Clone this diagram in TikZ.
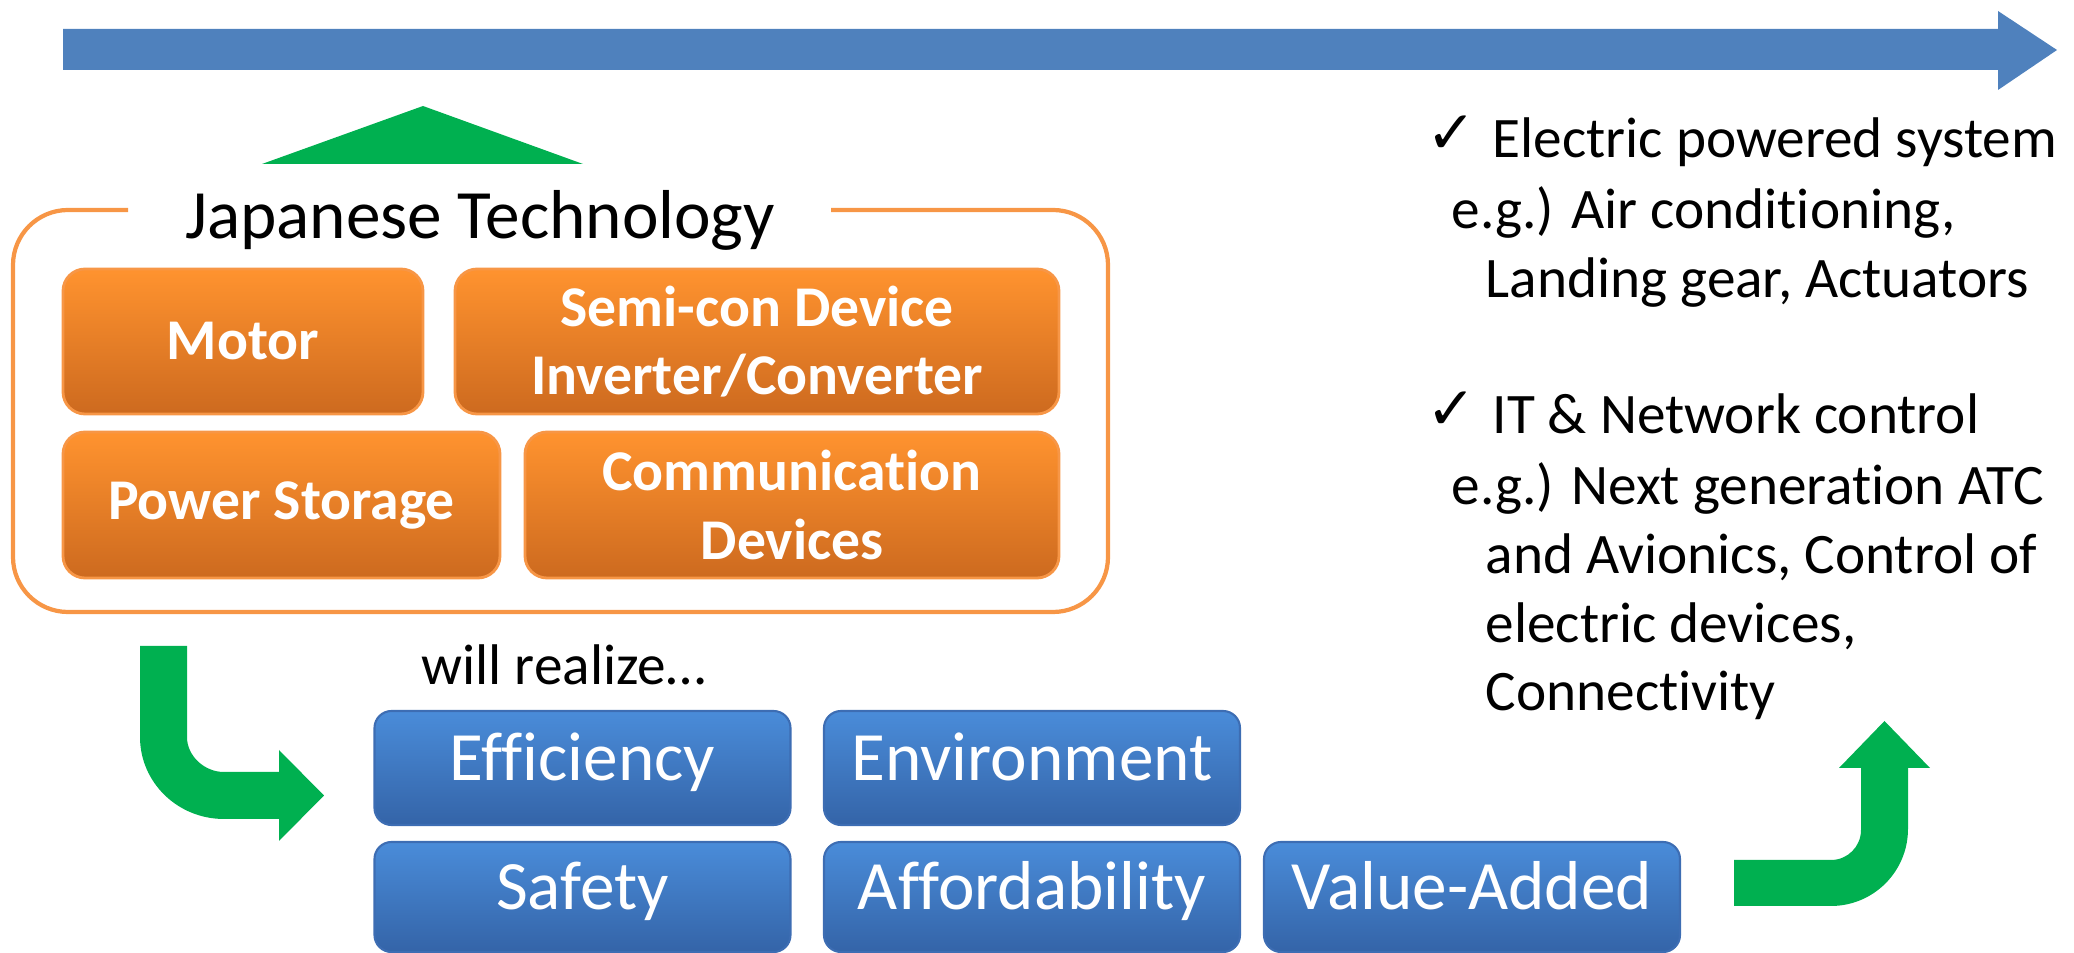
\documentclass[tikz,border=0pt]{standalone}
\usepackage{fontspec}
\setmainfont{Carlito}[Ligatures=NoCommon]
\newfontfamily\symfont{DejaVu Sans}

\definecolor{flowblue}{HTML}{4F81BD}
\definecolor{arrowgreen}{HTML}{00B050}
\definecolor{techedge}{HTML}{F79646}
\definecolor{techtop}{HTML}{FF932F}
\definecolor{techbot}{HTML}{CD6A1F}
\definecolor{goaltop}{HTML}{4A8CD9}
\definecolor{goalbot}{HTML}{3464A8}
\definecolor{goaledge}{HTML}{3D6DB3}

\tikzset{
  techbox/.style={rounded corners=0.22cm, draw=techedge, line width=0.8pt,
    top color=techtop, bottom color=techbot, text=white, align=center,
    inner sep=0pt, font=\fontsize{16.4}{19.4}\selectfont\bfseries},
  goalbox/.style={rounded corners=0.17cm, draw=goaledge, line width=0.6pt,
    top color=goaltop, bottom color=goalbot, text=white, inner sep=0pt,
    minimum width=4.16cm, text height=0.72em, text depth=0pt,
    font=\fontsize{19.7}{23}\selectfont},
  listtext/.style={anchor=base west, inner sep=0pt, font=\fontsize{16.3}{19}\selectfont},
  checktext/.style={anchor=base west, inner sep=0pt, font=\symfont\fontsize{17}{19}\selectfont},
}

\begin{document}
\begin{tikzpicture}[x=1cm, y=-1cm]
  \useasboundingbox (0,0) rectangle (20.74,9.53);

  % Timeline arrow
  \fill[flowblue] (0.63,0.29) -- (19.98,0.29) -- (19.98,0.11) -- (20.57,0.50)
    -- (19.98,0.90) -- (19.98,0.70) -- (0.63,0.70) -- cycle;

  % Green roof
  \fill[arrowgreen] (2.62,1.64) -- (4.23,1.06) -- (5.83,1.64) -- cycle;

  % Japanese Technology frame (open at the title)
  \draw[techedge, line width=1.2pt, rounded corners=0.55cm]
    (1.28,2.10) -- (0.13,2.10) -- (0.13,6.12) -- (11.08,6.12) -- (11.08,2.10) -- (8.31,2.10);
  \node[anchor=base, inner sep=0pt, font=\fontsize{19.7}{22}\selectfont] (title) at (4.80,2.39) {Japanese Technology};

  % Technology boxes
  \node[techbox, minimum width=3.60cm, minimum height=1.45cm] (motor) at (2.43,3.415) {Motor};
  \node[techbox, minimum width=6.04cm, minimum height=1.45cm] (semicon) at (7.57,3.415) {Semi-con Device\\Inverter/Converter};
  \node[techbox, minimum width=4.37cm, minimum height=1.46cm] (storage) at (2.815,5.05) {Power Storage};
  \node[techbox, minimum width=5.34cm, minimum height=1.46cm] (comm) at (7.92,5.05) {Communication\\Devices};

  % Green bent arrow, frame to goals
  \fill[arrowgreen] (1.40,6.46) -- (1.87,6.46) -- (1.87,7.37)
    .. controls (1.87,7.563) and (2.047,7.72) .. (2.24,7.72)
    -- (2.79,7.72) -- (2.79,7.50) -- (3.24,7.955) -- (2.79,8.41) -- (2.79,8.19) -- (2.24,8.19)
    .. controls (1.776,8.19) and (1.40,7.824) .. (1.40,7.37) -- cycle;

  \node[anchor=base west, inner sep=0pt, font=\fontsize{16.3}{19}\selectfont] (realize) at (4.21,6.85) {will realize\ldots};

  % Goal boxes
  \node[goalbox, minimum height=1.14cm] (efficiency) at (5.825,7.68) {Efficiency};
  \node[goalbox, minimum height=1.14cm] (environment) at (10.32,7.68) {Environment};
  \node[goalbox, minimum height=1.10cm] (safety) at (5.825,8.97) {Safety};
  \node[goalbox, minimum height=1.10cm] (afford) at (10.32,8.97) {Affordability};
  \node[goalbox, minimum height=1.10cm] (value) at (14.72,8.97) {Value-Added};

  % Green bent arrow, goals up to the list
  \fill[arrowgreen] (17.34,8.60) -- (18.31,8.60)
    .. controls (18.476,8.60) and (18.61,8.466) .. (18.61,8.30)
    -- (18.61,7.68) -- (18.39,7.68) -- (18.845,7.21) -- (19.30,7.68) -- (19.08,7.68) -- (19.08,8.29)
    .. controls (19.08,8.715) and (18.735,9.06) .. (18.31,9.06) -- (17.34,9.06) -- cycle;

  % Checked items
  \node[checktext] (chka) at (14.26,1.54) {✓};
  \node[listtext] (elec) at (14.92,1.58) {Electric powered system};
  \node[listtext] (eleca) at (14.51,2.29) {e.g.) Air conditioning,};
  \node[listtext] (elecb) at (14.85,2.98) {Landing gear, Actuators};
  \node[checktext] (chkb) at (14.26,4.30) {✓};
  \node[listtext] (net) at (14.92,4.34) {IT \& Network control};
  \node[listtext] (neta) at (14.51,5.05) {e.g.) Next generation ATC};
  \node[listtext] (netb) at (14.85,5.74) {and Avionics, Control of};
  \node[listtext] (netc) at (14.85,6.43) {electric devices,};
  \node[listtext] (netd) at (14.85,7.11) {Connectivity};
\end{tikzpicture}
\end{document}
